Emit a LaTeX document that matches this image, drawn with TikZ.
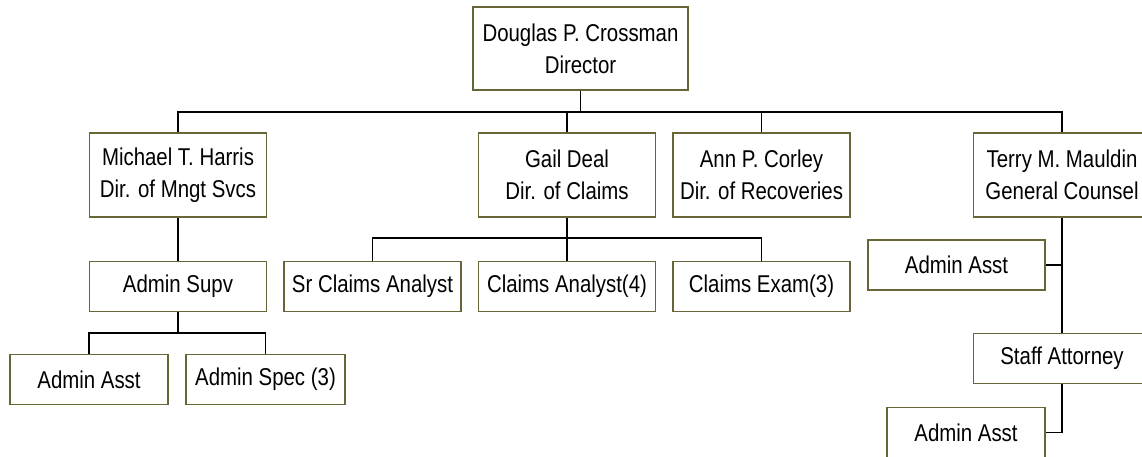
\documentclass[tikz,border=0pt]{standalone}
\usepackage{fontspec}
\setmainfont[FakeStretch=0.84]{Liberation Sans}
\definecolor{boxline}{RGB}{104,102,56}

\begin{document}
\begin{tikzpicture}[x=1pt,y=-1pt,
  every node/.style={font=\fontsize{24.3}{32}\selectfont},
  post/.style={draw=boxline,line width=1.8pt,fill=white,inner sep=0pt,align=center,
    minimum width=177pt,minimum height=50pt},
  wide/.style={post,minimum height=84pt},
  link/.style={draw=black,line width=1.2pt}]
\useasboundingbox (0,0) rectangle (1142,456);
\node[wide,minimum width=215pt,minimum height=83pt](dir) at (580.5,48.5){Douglas P. Crossman\\Director};
\node[wide](harris) at (178,175){Michael T. Harris\\Dir. of Mngt Svcs};
\node[wide](deal) at (567,175){Gail Deal\\Dir. of Claims};
\node[wide](corley) at (761.5,175){Ann P. Corley\\Dir. of Recoveries};
\node[wide](mauldin) at (1062,175){Terry M. Mauldin\\General Counsel};
\node[post](supv) at (178,286.5){Admin Supv};
\node[post](srclaims) at (372.5,286.5){Sr Claims Analyst};
\node[post](claims) at (567,286.5){Claims Analyst(4)};
\node[post](exam) at (761.5,286.5){Claims Exam(3)};
\node[post,minimum width=158pt](mgtasst) at (89,379.5){Admin Asst};
\node[post,minimum width=159pt](spec) at (265.5,379.5){Admin Spec (3)};
\node[post](gcasst) at (956.5,265){Admin Asst};
\node[post](attorney) at (1062,358.5){Staff Attorney};
\node[post,minimum width=158pt](attyasst) at (966,432.5){Admin Asst};

\coordinate (top) at (0,112);
\path[link] (harris.north) -- (harris.north |- top) -- (mauldin.north |- top) -- (mauldin.north);
\path[link] (dir.south) -- (dir.south |- top);
\path[link] (deal.north) -- (deal.north |- top);
\path[link] (corley.north) -- (corley.north |- top);

\path[link] (harris.south) -- (supv.north);
\path[link] (supv.south) -- (supv.south |- 0,333);
\path[link] (mgtasst.north) -- (mgtasst.north |- 0,333) -| (spec.north);

\path[link] (deal.south) -- (claims.north);
\path[link] (srclaims.north) -- (srclaims.north |- 0,238) -| (exam.north);

\path[link] (mauldin.south) -- (attorney.north);
\path[link] (gcasst.east) -- (gcasst.east -| mauldin.south);
\path[link] (attorney.south) |- (attyasst.east);
\end{tikzpicture}
\end{document}
